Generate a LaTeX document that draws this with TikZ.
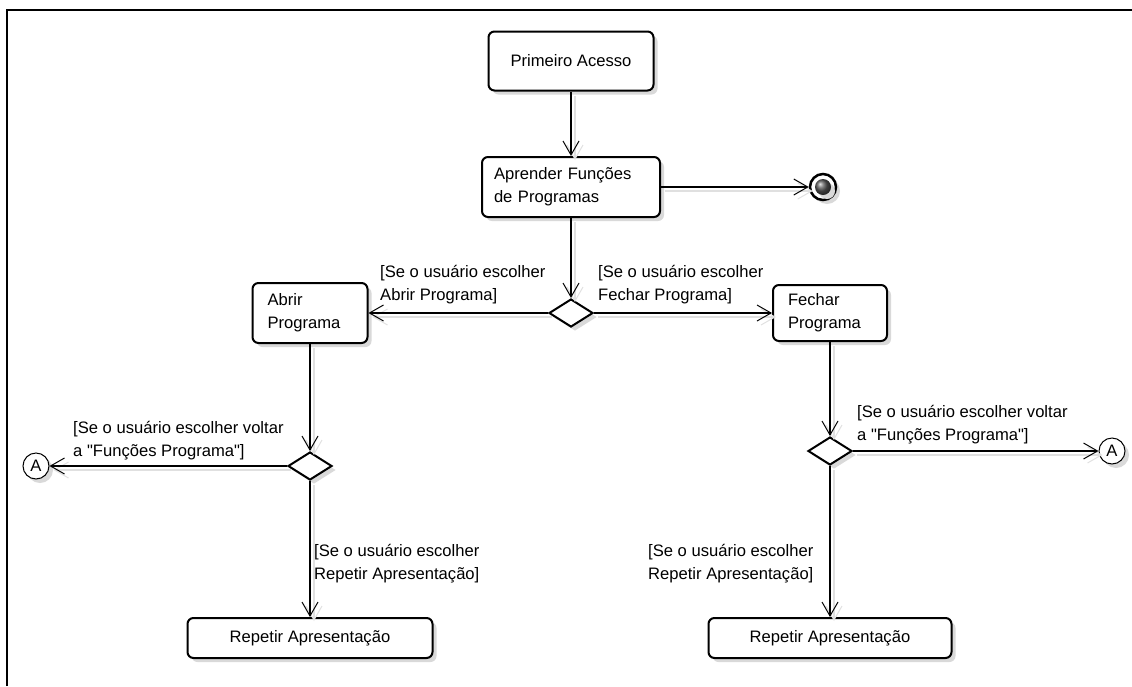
\documentclass[tikz,border=0pt]{standalone}
\usepackage{fontspec}
\setmainfont{Liberation Sans}[Ligatures=TeXOff]
\usetikzlibrary{shapes.geometric,arrows.meta,shadows}
\begin{document}
\begin{tikzpicture}[x=1pt,y=-1pt,
  font=\fontsize{16.6}{23}\selectfont,
  shade/.style={drop shadow={shadow xshift=4pt,shadow yshift=-4pt,fill=black!15,opacity=1}},
  act/.style={draw,line width=2pt,rounded corners=6pt,fill=white,shade,
    inner ysep=4pt},
  dec/.style={diamond,draw,line width=2pt,fill=white,shade,inner sep=0pt,
    minimum width=44pt,minimum height=28pt},
  conn/.style={line width=1.2pt,
    -{Straight Barb[length=14pt,width=16pt,line width=1pt]},
    preaction={draw=black!12,line width=2pt,
      transform canvas={xshift=4pt,yshift=-4pt}}},
  lbl/.style={anchor=north west,inner sep=0pt,align=left},
  conncirc/.style={circle,draw,line width=1pt,fill=white,shade,inner sep=0pt,
    minimum size=26pt}
]
\useasboundingbox (0,0) rectangle (1132,686);
% frame of the diagram
\draw[line width=2pt] (7,686) -- (7,10) -- (1132,10);

% actions
\node[act,minimum width=165pt,minimum height=59pt] (pa) at (571,61) {Primeiro Acesso};
\node[act,inner xsep=12pt,text width=154pt,align=left,minimum height=60pt] (ap) at (571,187) {Aprender Funções\\de Programas};
\node[act,inner xsep=15pt,text width=85pt,align=left,minimum height=60pt] (ab) at (310,313) {Abrir\\Programa};
\node[act,inner xsep=15pt,text width=84pt,align=left,minimum height=56pt] (fe) at (830,313) {Fechar\\Programa};
\node[act,minimum width=245pt,minimum height=40pt] (r1) at (310,638) {Repetir Apresentação};
\node[act,minimum width=243pt,minimum height=40pt] (r2) at (830,638) {Repetir Apresentação};

% decisions
\node[dec] (d1) at (571,313) {};
\node[dec] (d2) at (310,466) {};
\node[dec] (d3) at (830,451) {};

% connectors "A"
\node[conncirc] (aL) at (36,466) {A};
\node[conncirc] (aR) at (1112,451) {A};

% final node
\node[circle,draw,line width=2.5pt,fill=white,shade,inner sep=0pt,minimum size=26pt] (fim) at (823,187) {};
\shade[ball color=black!65] (fim.center) circle (8pt);

% flows
\draw[conn] (pa.south) -- (ap.north);
\draw[conn] (ap.east) -- (fim.west);
\draw[conn] (ap.south) -- (d1.north);
\draw[conn] (d1.west) -- (ab.east);
\draw[conn] (d1.east) -- (fe.west);
\draw[conn] (ab.south) -- (d2.north);
\draw[conn] (d2.west) -- (aL.east);
\draw[conn] (d2.south) -- (r1.north);
\draw[conn] (fe.south) -- (d3.north);
\draw[conn] (d3.east) -- (aR.west);
\draw[conn] (d3.south) -- (r2.north);

% guards
\node[lbl] (g1) at (380,265) {[Se o usuário escolher\\Abrir Programa]};
\node[lbl] (g2) at (598,265) {[Se o usuário escolher\\Fechar Programa]};
\node[lbl] (g3) at (73,421) {[Se o usuário escolher voltar\\a "Funções Programa"]};
\node[lbl] (g4) at (857,405) {[Se o usuário escolher voltar\\a "Funções Programa"]};
\node[lbl] (g5) at (314,544) {[Se o usuário escolher\\Repetir Apresentação]};
\node[lbl] (g6) at (648,544) {[Se o usuário escolher\\Repetir Apresentação]};
\end{tikzpicture}
\end{document}
